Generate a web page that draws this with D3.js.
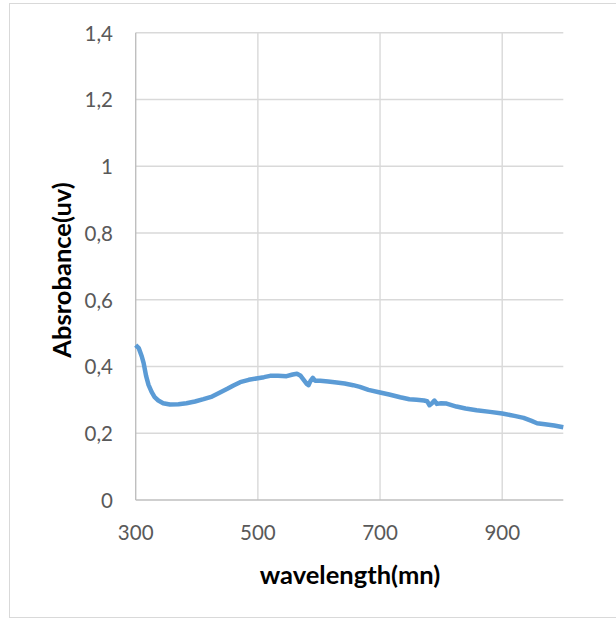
<!DOCTYPE html>
<html><head><meta charset="utf-8">
<script src="https://cdn.jsdelivr.net/npm/d3@7"></script>
<style>html,body{margin:0;padding:0;background:#fff;}svg{display:block;}</style>
</head><body>
<svg id="chart" width="616" height="619"></svg>
<script>
const wavelengths = [300,305,310,313,317,321,326,331,337,345,356,370,383,397,411,425,438,450,460,471,485,500,510,520,533,547,557,564,570,575,580,583,586,590,594,602,615,629,642,656,667,681,700,715,733,748,760,772,777,781,785,789,793,800,809,825,840,858,880,900,920,935,948,957,970,985,1000];
const absorbance = [0.464,0.455,0.430,0.410,0.372,0.345,0.324,0.308,0.298,0.290,0.286,0.287,0.290,0.295,0.302,0.310,0.322,0.333,0.343,0.353,0.360,0.365,0.368,0.372,0.372,0.371,0.376,0.378,0.372,0.360,0.348,0.344,0.356,0.366,0.357,0.357,0.355,0.352,0.349,0.344,0.339,0.330,0.322,0.316,0.308,0.302,0.300,0.298,0.296,0.284,0.290,0.298,0.288,0.290,0.289,0.280,0.274,0.269,0.264,0.259,0.252,0.246,0.237,0.230,0.227,0.223,0.218];
const xTicks = [300,500,700,900];
const yTicks = [0,0.2,0.4,0.6,0.8,1,1.2,1.4];
const xTitle = "wavelength(mn)";
const yTitle = "Absrobance(uv)";

const svg = d3.select("#chart");
const font = "Lato, 'Open Sans', sans-serif";
const L = 135.7, R = 563.3, T = 32.7, B = 500;
const x = d3.scaleLinear().domain([300,1000]).range([L,R]);
const y = d3.scaleLinear().domain([0,1.4]).range([B,T]);

svg.append("rect").attr("width",616).attr("height",619).attr("fill","#fff");
svg.append("rect").attr("x",9.5).attr("y",3.5).attr("width",620).attr("height",614)
  .attr("fill","none").attr("stroke","#d9d9d9").attr("stroke-width",1);

// gridlines
svg.append("g").selectAll("line").data(yTicks.filter(d=>d>0)).join("line")
  .attr("x1",L).attr("x2",R).attr("y1",d=>y(d)).attr("y2",d=>y(d))
  .attr("stroke","#d9d9d9").attr("stroke-width",1.4);
svg.append("g").selectAll("line").data(xTicks.filter(d=>d>300)).join("line")
  .attr("y1",T).attr("y2",B).attr("x1",d=>x(d)).attr("x2",d=>x(d))
  .attr("stroke","#d9d9d9").attr("stroke-width",1.4);

// axes lines
svg.append("line").attr("x1",L).attr("x2",L).attr("y1",T).attr("y2",B).attr("stroke","#bfbfbf").attr("stroke-width",1.4);
svg.append("line").attr("x1",L).attr("x2",R).attr("y1",B).attr("y2",B).attr("stroke","#bfbfbf").attr("stroke-width",1.4);

// tick labels
const fmt = d => String(d).replace(".",",");
svg.append("g").selectAll("text").data(yTicks).join("text")
  .attr("x",113).attr("y",d=>y(d)+8).attr("text-anchor","end")
  .attr("font-family",font).attr("font-size",20.5).attr("fill","#595959").text(fmt);
svg.append("g").selectAll("text").data(xTicks).join("text")
  .attr("x",d=>x(d)).attr("y",B+40).attr("text-anchor","middle")
  .attr("font-family",font).attr("font-size",20.5).attr("fill","#595959").text(d=>d);

// titles
svg.append("text").attr("x",350).attr("y",584).attr("text-anchor","middle")
  .attr("font-family",font).attr("font-weight","bold").attr("font-size",25.5).attr("fill","#000").text(xTitle);
svg.append("text").attr("transform","translate(71,270) rotate(-90)").attr("text-anchor","middle")
  .attr("font-family",font).attr("font-weight","bold").attr("font-size",25.5).attr("fill","#000").text(yTitle);

// line
const data = wavelengths.map((w,i)=>[w,absorbance[i]]);
svg.append("path").datum(data)
  .attr("d",d3.line().x(d=>x(d[0])).y(d=>y(d[1])))
  .attr("fill","none").attr("stroke","#5b9bd5").attr("stroke-width",4.5)
  .attr("stroke-linejoin","round").attr("stroke-linecap","butt");
</script>
</body></html>
